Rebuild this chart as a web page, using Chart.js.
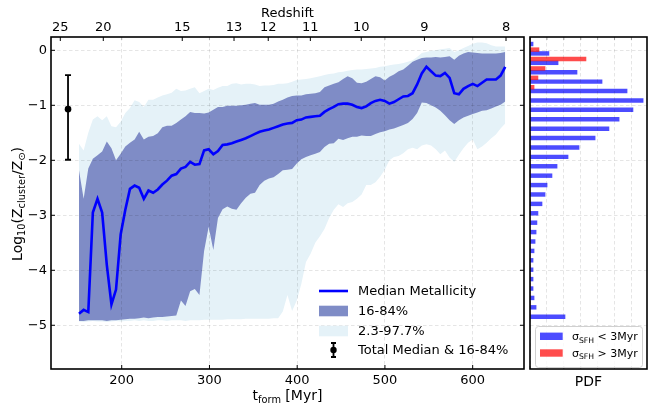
<!DOCTYPE html>
<html><head><meta charset="utf-8">
<script src="https://cdn.jsdelivr.net/npm/chart.js@4"></script>
<style>
html,body{margin:0;padding:0;background:#fff;}
#wrap{position:relative;width:648px;height:410px;overflow:hidden;}
canvas{position:absolute;left:0;top:0;}
</style></head><body>
<div id="wrap"><canvas id="main" width="648" height="410"></canvas><canvas id="pdf" width="648" height="410"></canvas></div>
<script>
// ---------- data ----------
const tForm = [151.3,156.6,161.9,167.1,172.4,177.7,183.0,188.3,193.5,198.8,
204.1,209.4,214.7,219.9,225.2,230.5,235.8,241.1,246.3,251.6,
256.9,262.2,267.5,272.7,278.0,283.3,288.6,293.9,299.1,304.4,
309.7,315.0,320.3,325.5,330.8,336.1,341.4,346.7,351.9,357.2,
362.5,367.8,373.1,378.3,383.6,388.9,394.2,399.5,404.7,410.0,
415.3,420.6,425.9,431.1,436.4,441.7,447.0,452.3,457.5,462.8,
468.1,473.4,478.7,483.9,489.2,494.5,499.8,505.1,510.3,515.6,
520.9,526.2,531.5,536.7,542.0,547.3,552.6,557.9,563.1,568.4,
573.7,579.0,584.3,589.5,594.8,600.1,605.4,610.7,615.9,621.2,
626.5,631.8,637.1];
const medianZ = [-4.79,-4.72,-4.76,-2.95,-2.70,-2.95,-3.90,-4.62,-4.35,-3.35,
-2.90,-2.52,-2.46,-2.50,-2.70,-2.55,-2.59,-2.53,-2.44,-2.37,
-2.28,-2.25,-2.15,-2.12,-2.03,-2.08,-2.07,-1.82,-1.80,-1.89,
-1.83,-1.72,-1.71,-1.69,-1.66,-1.63,-1.60,-1.56,-1.52,-1.48,
-1.46,-1.44,-1.41,-1.38,-1.35,-1.33,-1.32,-1.27,-1.26,-1.22,
-1.21,-1.20,-1.19,-1.12,-1.07,-1.03,-0.98,-0.97,-0.97,-0.99,
-1.03,-1.05,-1.02,-0.96,-0.92,-0.90,-0.92,-0.97,-0.94,-0.89,
-0.84,-0.83,-0.78,-0.62,-0.42,-0.30,-0.38,-0.46,-0.47,-0.41,
-0.50,-0.78,-0.80,-0.70,-0.65,-0.61,-0.65,-0.59,-0.53,-0.53,
-0.53,-0.46,-0.30];
const p84 = [-2.18,-2.70,-2.15,-1.97,-1.91,-1.84,-1.66,-1.78,-2.00,-1.88,
-1.75,-1.68,-1.62,-1.48,-1.62,-1.57,-1.56,-1.51,-1.40,-1.37,
-1.37,-1.32,-1.26,-1.20,-1.12,-1.14,-1.14,-1.15,-1.13,-1.08,
-1.03,-1.03,-1.01,-1.01,-1.01,-1.00,-0.99,-0.97,-0.96,-0.99,
-0.99,-0.99,-0.97,-0.93,-0.90,-0.86,-0.83,-0.82,-0.82,-0.80,
-0.79,-0.78,-0.76,-0.67,-0.64,-0.61,-0.58,-0.52,-0.47,-0.51,
-0.59,-0.60,-0.57,-0.52,-0.47,-0.49,-0.55,-0.48,-0.44,-0.38,
-0.35,-0.28,-0.21,-0.17,-0.14,-0.13,-0.13,-0.12,-0.13,-0.12,
-0.11,-0.17,-0.10,-0.06,-0.03,-0.04,-0.05,-0.06,-0.06,-0.06,
-0.06,-0.05,-0.03];
const p16 = [-4.92,-4.92,-4.91,-4.91,-4.91,-4.91,-4.92,-4.91,-4.91,-4.90,
-4.89,-4.88,-4.88,-4.87,-4.86,-4.87,-4.86,-4.85,-4.85,-4.84,
-4.83,-4.82,-4.55,-4.65,-4.38,-4.34,-4.45,-3.65,-3.21,-3.63,
-3.05,-2.89,-2.84,-2.88,-2.90,-2.78,-2.68,-2.61,-2.59,-2.45,
-2.37,-2.33,-2.31,-2.25,-2.18,-2.17,-2.16,-2.06,-1.98,-1.94,
-1.91,-1.88,-1.85,-1.76,-1.70,-1.69,-1.61,-1.63,-1.60,-1.57,
-1.57,-1.55,-1.56,-1.56,-1.52,-1.49,-1.47,-1.44,-1.42,-1.39,
-1.36,-1.32,-1.25,-1.14,-0.95,-0.96,-1.00,-1.04,-1.10,-1.18,
-1.27,-1.34,-1.27,-1.22,-1.19,-1.16,-1.13,-1.10,-1.09,-1.06,
-1.02,-0.99,-0.93];
const p98 = [-1.70,-1.82,-1.50,-1.26,-1.20,-1.27,-1.20,-1.38,-1.40,-1.30,
-1.14,-1.05,-0.91,-0.94,-1.03,-0.90,-0.90,-0.86,-0.82,-0.80,
-0.77,-0.70,-0.74,-0.73,-0.70,-0.67,-0.78,-0.74,-0.70,-0.72,
-0.68,-0.65,-0.65,-0.61,-0.60,-0.62,-0.61,-0.61,-0.62,-0.65,
-0.64,-0.64,-0.63,-0.61,-0.61,-0.60,-0.57,-0.54,-0.53,-0.52,
-0.51,-0.49,-0.47,-0.45,-0.43,-0.42,-0.40,-0.39,-0.37,-0.36,
-0.35,-0.35,-0.34,-0.33,-0.32,-0.30,-0.29,-0.27,-0.26,-0.25,
-0.23,-0.21,-0.18,-0.12,-0.05,-0.03,-0.01,0.00,0.02,0.03,
0.04,-0.03,0.00,0.04,0.08,0.12,0.14,0.14,0.13,0.09,
0.07,0.07,0.07];
const p2 = [-4.93,-4.94,-4.93,-4.92,-4.93,-4.93,-4.94,-4.93,-4.92,-4.93,
-4.92,-4.92,-4.91,-4.92,-4.91,-4.92,-4.92,-4.91,-4.91,-4.92,
-4.91,-4.91,-4.91,-4.92,-4.91,-4.91,-4.91,-4.90,-4.90,-4.90,
-4.90,-4.90,-4.89,-4.89,-4.89,-4.89,-4.88,-4.88,-4.88,-4.88,
-4.88,-4.88,-4.87,-4.87,-4.75,-4.45,-4.74,-4.55,-4.25,-3.85,
-3.70,-3.50,-3.38,-3.25,-3.05,-2.90,-2.80,-2.85,-2.78,-2.76,
-2.70,-2.62,-2.45,-2.45,-2.40,-2.30,-2.17,-2.00,-1.94,-1.92,
-1.87,-1.80,-1.77,-1.80,-1.73,-1.71,-1.73,-1.80,-1.89,-1.82,
-1.95,-2.03,-1.90,-1.78,-1.68,-1.62,-1.80,-1.75,-1.68,-1.60,
-1.53,-1.42,-1.33];
// total median & 16-84% error bar
const totalT = [138.8];
const totalMedian = [-1.07];
const total16 = [-1.99];
const total84 = [-0.45];
// axes
const xTicks = [200, 300, 400, 500, 600];
const yTicks = [0, -1, -2, -3, -4, -5];
const redshiftLabels = ['25','20','15','13','12','11','10','9','8'];
const redshiftTimes = [130, 179, 269, 328, 367, 415, 473, 545, 638];
// PDF histogram
const pdfBins = [0.149,-0.022,-0.193,-0.364,-0.535,-0.706,-0.877,-1.048,-1.219,-1.390,
-1.561,-1.732,-1.903,-2.074,-2.245,-2.416,-2.587,-2.758,-2.929,-3.100,
-3.271,-3.442,-3.613,-3.784,-3.955,-4.126,-4.297,-4.468,-4.639,-4.810];
const pdfLow = [0.18,1.12,1.66,2.78,4.26,5.74,6.69,6.09,5.27,4.67,
3.85,2.90,2.25,1.60,1.30,1.01,0.89,0.71,0.47,0.41,
0.36,0.30,0.24,0.18,0.18,0.18,0.18,0.24,0.36,2.07];
const pdfHigh = [0,0.53,3.31,0.89,0.47,0.24,0,0,0,0,
0,0,0,0,0,0,0,0,0,0,
0,0,0,0,0,0,0,0,0,0];
const pdfTicks = [0,1,2,3,4,5,6];

// ---------- style ----------
const FONT = "'DejaVu Sans', sans-serif";
const Y_MIN = -5.795, Y_MAX = 0.242, X_MIN = 119.4, X_MAX = 658.5;
const DARK = 'rgb(127,140,198)';
const LIGHT = 'rgb(229,242,248)';
const GRID = 'rgba(0,0,0,0.13)';
Chart.defaults.font.family = FONT;
Chart.defaults.font.size = 13;
Chart.defaults.color = '#000';

const minus = v => (v < 0 ? '\u2212' + Math.abs(v) : String(v));

function drawRich(ctx, parts, x, y, size, align) {
  let w = 0;
  for (const [t, sub] of parts) { ctx.font = (sub ? size * 0.7 : size) + 'px ' + FONT; w += ctx.measureText(t).width; }
  let cx = align === 'center' ? x - w / 2 : (align === 'right' ? x - w : x);
  ctx.textAlign = 'left';
  ctx.textBaseline = 'alphabetic';
  for (const [t, sub] of parts) {
    ctx.font = (sub ? size * 0.7 : size) + 'px ' + FONT;
    ctx.fillText(t, cx, sub ? y + size * 0.22 : y);
    cx += ctx.measureText(t).width;
  }
}

const line = (ys) => tForm.map((t, i) => ({x: t, y: ys[i]}));
const bandDs = (ys, fill, color) => ({data: line(ys), fill: fill, backgroundColor: color,
  borderColor: 'rgba(0,0,0,0)', borderWidth: 0, pointRadius: 0, tension: 0});

const mainDecor = {
  id: 'mainDecor',
  afterDatasetsDraw(chart) {
    const {ctx, scales: {x, y}} = chart;
    ctx.save();
    ctx.strokeStyle = '#000'; ctx.lineWidth = 1.8;
    totalT.forEach((t, i) => {
      const px = x.getPixelForValue(t), y1 = y.getPixelForValue(total84[i]), y2 = y.getPixelForValue(total16[i]);
      ctx.beginPath();
      ctx.moveTo(px, y1); ctx.lineTo(px, y2);
      ctx.moveTo(px - 3, y1); ctx.lineTo(px + 3, y1);
      ctx.moveTo(px - 3, y2); ctx.lineTo(px + 3, y2);
      ctx.stroke();
    });
    ctx.restore();
  },
  afterDraw(chart) {
    const {ctx, chartArea: a, scales: {x, y, x2}} = chart;
    ctx.save();
    // inward ticks
    ctx.strokeStyle = '#000'; ctx.lineWidth = 1;
    ctx.beginPath();
    yTicks.forEach(v => { const py = y.getPixelForValue(v);
      ctx.moveTo(a.left, py); ctx.lineTo(a.left + 4, py);
      ctx.moveTo(a.right, py); ctx.lineTo(a.right - 4, py); });
    xTicks.forEach(v => { const px = x.getPixelForValue(v);
      ctx.moveTo(px, a.bottom); ctx.lineTo(px, a.bottom - 4); });
    redshiftTimes.forEach(v => { const px = x2.getPixelForValue(v);
      ctx.moveTo(px, a.top); ctx.lineTo(px, a.top + 4); });
    ctx.stroke();
    ctx.strokeStyle = '#aaa';
    ctx.beginPath();
    xTicks.forEach(v => { const px = x.getPixelForValue(v);
      ctx.moveTo(px, a.top); ctx.lineTo(px, a.top + 3); });
    ctx.stroke();
    // frame
    ctx.strokeStyle = '#000'; ctx.lineWidth = 1.6;
    ctx.strokeRect(a.left, a.top, a.right - a.left, a.bottom - a.top);
    // titles
    ctx.fillStyle = '#000';
    ctx.font = '13px ' + FONT; ctx.textAlign = 'center'; ctx.textBaseline = 'alphabetic';
    ctx.fillText('Redshift', (a.left + a.right) / 2, 17);
    drawRich(ctx, [['t', false], ['form', true], [' [Myr]', false]], (a.left + a.right) / 2, 400, 14, 'center');
    ctx.save();
    ctx.translate(22, (a.top + a.bottom) / 2 + 1);
    ctx.rotate(-Math.PI / 2);
    drawRich(ctx, [['Log', false], ['10', true], ['(Z', false], ['cluster', true], ['/Z', false], ['\u2299', true], [')', false]], 0, 0, 14, 'center');
    ctx.restore();
    // legend
    const lx0 = 319, lx1 = 348, tx = 358, rows = [291, 311, 331, 350];
    ctx.strokeStyle = '#0000ff'; ctx.lineWidth = 2.6;
    ctx.beginPath(); ctx.moveTo(lx0, rows[0]); ctx.lineTo(lx1, rows[0]); ctx.stroke();
    ctx.fillStyle = DARK; ctx.fillRect(lx0, rows[1] - 5.3, lx1 - lx0, 10.6);
    ctx.fillStyle = LIGHT; ctx.fillRect(lx0, rows[2] - 5.3, lx1 - lx0, 10.6);
    const ex = (lx0 + lx1) / 2;
    ctx.strokeStyle = '#000'; ctx.lineWidth = 1.8;
    ctx.beginPath();
    ctx.moveTo(ex, rows[3] - 7); ctx.lineTo(ex, rows[3] + 7);
    ctx.moveTo(ex - 2.5, rows[3] - 7); ctx.lineTo(ex + 2.5, rows[3] - 7);
    ctx.moveTo(ex - 2.5, rows[3] + 7); ctx.lineTo(ex + 2.5, rows[3] + 7);
    ctx.stroke();
    ctx.fillStyle = '#000';
    ctx.beginPath(); ctx.arc(ex, rows[3], 3.2, 0, Math.PI * 2); ctx.fill();
    ctx.font = '13px ' + FONT; ctx.textAlign = 'left'; ctx.textBaseline = 'middle';
    ['Median Metallicity', '16-84%', '2.3-97.7%', 'Total Median & 16-84%'].forEach((s, i) => ctx.fillText(s, tx, rows[i] + 0.5));
    ctx.restore();
  }
};

new Chart(document.getElementById('main'), {
  type: 'line',
  data: {
    datasets: [
      {data: totalT.map((t, i) => ({x: t, y: totalMedian[i]})), showLine: false, pointRadius: 3.3,
        pointBackgroundColor: '#000', pointBorderColor: '#000', pointBorderWidth: 0},
      {data: line(medianZ), borderColor: '#0000ff', borderWidth: 2.6, pointRadius: 0, fill: false, tension: 0},
      bandDs(p84, '+1', DARK),
      bandDs(p16, false, DARK),
      bandDs(p98, '+1', LIGHT),
      bandDs(p2, false, LIGHT)
    ]
  },
  options: {
    responsive: false, animation: false, devicePixelRatio: 1,
    layout: {padding: {left: 0, right: 124, top: 0, bottom: 0}},
    plugins: {legend: {display: false}, tooltip: {enabled: false}},
    scales: {
      x: {type: 'linear', position: 'bottom', min: X_MIN, max: X_MAX,
        afterBuildTicks: s => { s.ticks = xTicks.map(v => ({value: v})); },
        afterFit: s => { s.height = 41; },
        ticks: {autoSkip: false, maxRotation: 0, padding: 4, font: {size: 13}},
        grid: {color: GRID, lineWidth: 0.8, drawTicks: false, z: 1},
        border: {display: false, dash: [3.5, 2.5]}},
      x2: {type: 'linear', position: 'top', min: X_MIN, max: X_MAX,
        afterBuildTicks: s => { s.ticks = redshiftTimes.map(v => ({value: v})); },
        afterFit: s => { s.height = 37; },
        ticks: {autoSkip: false, maxRotation: 0, padding: 2, font: {size: 13},
          callback: (v, i) => redshiftLabels[i]},
        grid: {display: false, drawTicks: false},
        border: {display: false}},
      y: {type: 'linear', position: 'left', min: Y_MIN, max: Y_MAX,
        afterBuildTicks: s => { s.ticks = yTicks.map(v => ({value: v})); },
        afterFit: s => { s.width = 51; },
        ticks: {padding: 4, font: {size: 13}, callback: v => minus(v)},
        grid: {color: GRID, lineWidth: 0.8, drawTicks: false, z: 1},
        border: {display: false, dash: [3.5, 2.5]}}
    }
  },
  plugins: [mainDecor]
});

const pdfDecor = {
  id: 'pdfDecor',
  afterDraw(chart) {
    const {ctx, chartArea: a, scales: {x, y}} = chart;
    ctx.save();
    ctx.strokeStyle = '#999'; ctx.lineWidth = 1;
    ctx.beginPath();
    pdfTicks.forEach(v => { const px = x.getPixelForValue(v);
      ctx.moveTo(px, a.bottom); ctx.lineTo(px, a.bottom - 3);
      ctx.moveTo(px, a.top); ctx.lineTo(px, a.top + 3); });
    ctx.stroke();
    ctx.strokeStyle = '#000'; ctx.lineWidth = 1.6;
    ctx.strokeRect(a.left, a.top, a.right - a.left, a.bottom - a.top);
    // label
    ctx.fillStyle = '#000'; ctx.font = '14px ' + FONT; ctx.textAlign = 'center'; ctx.textBaseline = 'alphabetic';
    ctx.fillText('PDF', (a.left + a.right) / 2, 386);
    // legend
    const bx = 535, by = 326, bw = 107, bh = 41;
    ctx.fillStyle = 'rgba(255,255,255,0.8)';
    ctx.strokeStyle = '#d0d0d0'; ctx.lineWidth = 1;
    ctx.beginPath(); ctx.roundRect(bx + 0.5, by + 0.5, bw, bh, 3); ctx.fill(); ctx.stroke();
    const items = [['rgba(0,0,255,0.7)', ' < 3Myr', 336.3], ['rgba(255,0,0,0.7)', ' > 3Myr', 353]];
    items.forEach(([c, s, cy]) => {
      ctx.fillStyle = c; ctx.fillRect(540, cy - 3.7, 22.7, 7.4);
      ctx.fillStyle = '#000';
      drawRich(ctx, [['\u03c3', false], ['SFH', true], [s, false]], 572, cy + 4, 11, 'left');
    });
    ctx.restore();
  }
};

new Chart(document.getElementById('pdf'), {
  type: 'bar',
  data: {
    datasets: [
      {data: pdfBins.map((b, i) => ({x: pdfHigh[i], y: b})), backgroundColor: 'rgba(255,0,0,0.7)', barThickness: 3.8, borderWidth: 0},
      {data: pdfBins.map((b, i) => ({x: pdfLow[i], y: b})), backgroundColor: 'rgba(0,0,255,0.7)', barThickness: 3.8, borderWidth: 0}
    ]
  },
  options: {
    indexAxis: 'y', responsive: false, animation: false, devicePixelRatio: 1,
    layout: {padding: {left: 0, right: 1, top: 37, bottom: 0}},
    plugins: {legend: {display: false}, tooltip: {enabled: false}},
    scales: {
      x: {type: 'linear', position: 'bottom', min: 0, max: 6.92, offset: false,
        afterBuildTicks: s => { s.ticks = pdfTicks.map(v => ({value: v})); },
        afterFit: s => { s.height = 41; },
        ticks: {display: false},
        grid: {color: GRID, lineWidth: 0.8, drawTicks: false, z: 1, offset: false},
        border: {display: false, dash: [3.5, 2.5]}},
      y: {type: 'linear', position: 'left', min: Y_MIN, max: Y_MAX, offset: false,
        afterBuildTicks: s => { s.ticks = yTicks.map(v => ({value: v})); },
        afterFit: s => { s.width = 530; },
        ticks: {display: false},
        grid: {color: GRID, lineWidth: 0.8, drawTicks: false, z: 1, offset: false},
        border: {display: false, dash: [3.5, 2.5]}}
    }
  },
  plugins: [pdfDecor]
});
</script>
</body></html>
